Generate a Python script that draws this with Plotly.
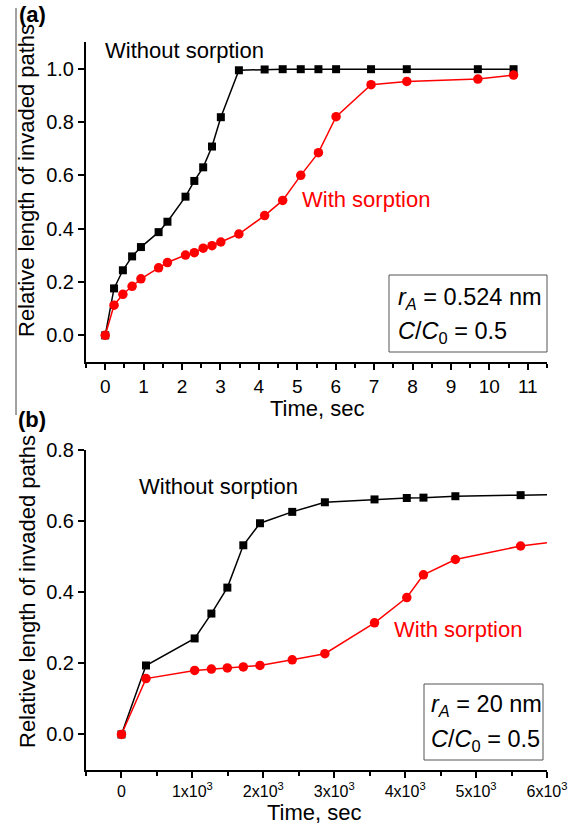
import plotly.graph_objects as go

# ---------------- data ----------------
# Panel (a)
a_time = [0, 0.23, 0.46, 0.70, 0.93, 1.39, 1.62, 2.09, 2.32, 2.55, 2.78, 3.01,
          3.48, 4.15, 4.62, 5.09, 5.55, 6.01, 6.92, 7.85, 9.70, 10.63]
a_without = [0, 0.176, 0.244, 0.296, 0.331, 0.387, 0.426, 0.52, 0.579, 0.63, 0.708, 0.818,
             0.994, 0.997, 0.998, 0.998, 0.998, 0.998, 0.998, 0.998, 0.998, 0.998]
a_with = [0, 0.113, 0.154, 0.184, 0.212, 0.253, 0.273, 0.301, 0.31, 0.327, 0.336, 0.35,
          0.38, 0.449, 0.506, 0.60, 0.685, 0.82, 0.94, 0.952, 0.961, 0.976]
a_xticks = list(range(0, 12))
a_yticks = [0.0, 0.2, 0.4, 0.6, 0.8, 1.0]

# Panel (b)
b_time = [0, 346, 1032, 1268, 1493, 1718, 1953, 2408, 2868, 3568, 4023, 4258, 4708, 5628]
b_without = [0, 0.194, 0.27, 0.34, 0.413, 0.532, 0.594, 0.626, 0.653, 0.661, 0.665, 0.666, 0.67, 0.673]
b_with = [0, 0.157, 0.18, 0.184, 0.187, 0.19, 0.194, 0.21, 0.227, 0.314, 0.385, 0.449, 0.492, 0.53]
# curves continue to the end of the axis
b_tail_time = 6000
b_tail_without = 0.674
b_tail_with = 0.539
b_xticks = [0, 1000, 2000, 3000, 4000, 5000, 6000]
b_xticklabels = ["0", "1x10<sup>3</sup>", "2x10<sup>3</sup>", "3x10<sup>3</sup>",
                 "4x10<sup>3</sup>", "5x10<sup>3</sup>", "6x10<sup>3</sup>"]
b_yticks = [0.0, 0.2, 0.4, 0.6, 0.8]

label_without = "Without sorption"
label_with = "With sorption"
xtitle = "Time, sec"
ytitle = "Relative length of invaded paths"
a_box = ["<i>r</i><sub><i>A</i></sub> = 0.524 nm", "<i>C</i>/<i>C</i><sub>0</sub> = 0.5"]
b_box = ["<i>r</i><sub><i>A</i></sub> = 20 nm", "<i>C</i>/<i>C</i><sub>0</sub> = 0.5"]

# ---------------- figure ----------------
W, H = 575, 828
FONT = "Liberation Sans, Arial, sans-serif"
BLACK = "#000000"
RED = "#ff0000"


def px(x):
    return x / W


def py(y):
    return 1 - y / H


fig = go.Figure()

# panel (a)
fig.add_trace(go.Scatter(x=a_time, y=a_without, mode="lines+markers", xaxis="x", yaxis="y",
                         line=dict(color=BLACK, width=1.5),
                         marker=dict(symbol="square", size=8, color=BLACK), showlegend=False))
fig.add_trace(go.Scatter(x=a_time, y=a_with, mode="lines+markers", xaxis="x", yaxis="y",
                         line=dict(color=RED, width=1.5),
                         marker=dict(symbol="circle", size=9.5, color=RED), showlegend=False))

# panel (b)
fig.add_trace(go.Scatter(x=b_time + [b_tail_time], y=b_without + [b_tail_without], mode="lines",
                         xaxis="x2", yaxis="y2", line=dict(color=BLACK, width=1.5), showlegend=False))
fig.add_trace(go.Scatter(x=b_time, y=b_without, mode="markers", xaxis="x2", yaxis="y2",
                         marker=dict(symbol="square", size=8, color=BLACK), showlegend=False))
fig.add_trace(go.Scatter(x=b_time + [b_tail_time], y=b_with + [b_tail_with], mode="lines",
                         xaxis="x2", yaxis="y2", line=dict(color=RED, width=1.5), showlegend=False))
fig.add_trace(go.Scatter(x=b_time, y=b_with, mode="markers", xaxis="x2", yaxis="y2",
                         marker=dict(symbol="circle", size=9.5, color=RED), showlegend=False))

axis_common = dict(showgrid=False, zeroline=False, showline=True, linecolor=BLACK, linewidth=2,
                   ticks="outside", ticklen=6, tickwidth=1.5, tickcolor=BLACK, automargin=False,
                   tickfont=dict(family=FONT, size=19, color=BLACK), mirror=False)

xdom = [px(86), px(547)]

fig.update_layout(
    template="none",
    width=W, height=H,
    margin=dict(l=0, r=0, t=0, b=0, pad=0, autoexpand=False),
    paper_bgcolor="white", plot_bgcolor="white",
    font=dict(family=FONT, color=BLACK),
    showlegend=False,
    xaxis=dict(axis_common, domain=xdom, range=[-0.5, 11.5], tickvals=a_xticks, anchor="y",
               minor=dict(ticks="outside", ticklen=4, tickwidth=1.5, tickcolor=BLACK, dtick=0.5,
                          tick0=0.5)),
    yaxis=dict(axis_common, domain=[py(362), py(42)], range=[-0.1, 1.1], tickvals=a_yticks,
               tickformat=".1f", anchor="x", tickfont=dict(family=FONT, size=20, color=BLACK)),
    xaxis2=dict(axis_common, domain=xdom, range=[-500, 6000], tickvals=b_xticks,
                ticktext=b_xticklabels, anchor="y2",
                tickfont=dict(family=FONT, size=16, color=BLACK),
                minor=dict(ticks="outside", ticklen=4, tickwidth=1.5, tickcolor=BLACK, dtick=500,
                           tick0=500)),
    yaxis2=dict(axis_common, domain=[py(770), py(450)], range=[-0.1, 0.8], tickvals=b_yticks,
                tickformat=".1f", anchor="x2", tickfont=dict(family=FONT, size=20, color=BLACK)),
)

ann = []


def text(x, y, s, size=22, color=BLACK, xanchor="center", angle=0, bold=False):
    ann.append(dict(x=px(x), y=py(y), xref="paper", yref="paper", text=("<b>%s</b>" % s) if bold else s,
                    showarrow=False, xanchor=xanchor, yanchor="middle", textangle=angle,
                    font=dict(family=FONT, size=size, color=color)))


# panel labels
text(17, 15, "(a)", size=22, bold=True, xanchor="left")
text(16, 419, "(b)", size=22, bold=True, xanchor="left")
# axis titles
text(27, 181, ytitle, angle=-90)
text(27, 592, ytitle, angle=-90)
text(317, 408, xtitle)
text(315, 812, xtitle)
# series labels
text(184, 50, label_without)
text(366, 200, label_with, color=RED)
text(218, 487, label_without)
text(458, 629, label_with, color=RED)
# parameter boxes
text(396, 298, a_box[0], size=23.5, xanchor="left")
text(396, 332, a_box[1], size=23.5, xanchor="left")
text(429, 705, b_box[0], size=23.5, xanchor="left")
text(429, 740, b_box[1], size=23.5, xanchor="left")

fig.update_layout(annotations=ann)

shapes = [
    dict(type="rect", xref="paper", yref="paper", x0=px(389), x1=px(547), y0=py(352), y1=py(275),
         line=dict(color="#555555", width=1)),
    dict(type="rect", xref="paper", yref="paper", x0=px(424), x1=px(543), y0=py(760), y1=py(684),
         line=dict(color="#555555", width=1)),
    dict(type="line", xref="paper", yref="paper", x0=px(16), x1=px(16), y0=py(8), y1=py(415),
         line=dict(color="#444444", width=1)),
]
fig.update_layout(shapes=shapes)

fig.write_html(
    "out.html",
    config={"displayModeBar": False},
    post_script="document.body.style.margin='0';document.body.style.overflow='hidden';",
)
